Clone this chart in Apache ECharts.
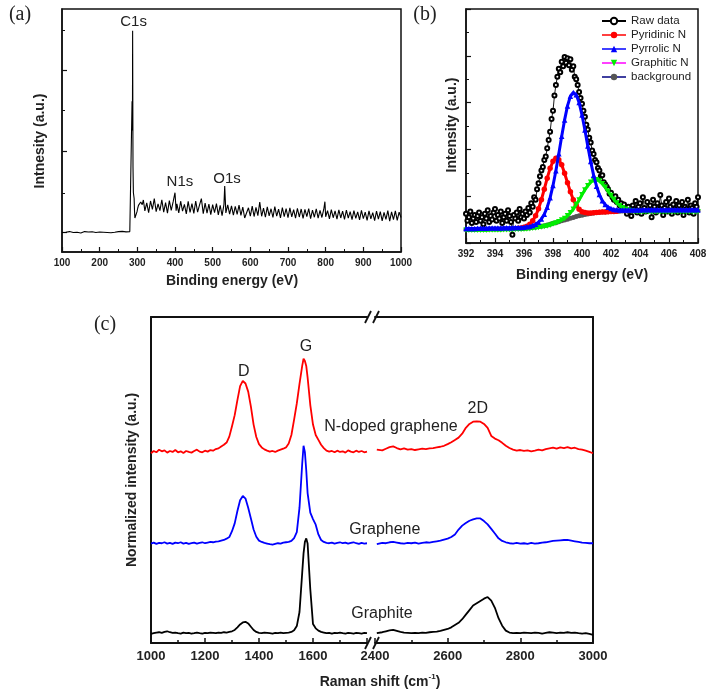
<!DOCTYPE html>
<html><head><meta charset="utf-8">
<script src="https://cdn.jsdelivr.net/npm/echarts@6/dist/echarts.min.js"></script>
<style>html,body{margin:0;padding:0;background:#fff}#c{width:711px;height:697px}</style>
</head><body><div id="c"></div>
<script>
const FONT = "'Liberation Sans', Arial, sans-serif";
const SERIF = "'Liberation Serif', 'Times New Roman', serif";

// ---------- (a) XPS survey: [binding energy, intensity] ----------
const surveyPoints = [
[100,8.0],[105,8.3],[110,8.1],[115,7.9],[120,8.4],[125,8.2],[130,8.0],[135,8.5],[140,8.1],[145,8.3],
[150,7.8],[155,8.2],[160,8.4],[165,8.0],[170,8.2],[175,7.9],[180,8.3],[185,8.1],[190,8.0],[195,8.4],
[200,8.2],[205,7.9],[210,8.1],[215,8.3],[220,8.0],[225,8.2],[230,7.9],[235,8.3],[240,8.1],[245,8.0],
[250,8.4],[255,8.2],[260,8.5],[265,8.1],[270,8.3],[275,8.6],[280,8.4],[283,8.6],[285,8.9],[286,62],
[287,50],[287.5,91],[288.5,35],[289.5,24.5],[290.5,25],[291.5,22],[292.5,17],[293.5,14],[295,13.4],[297,14.5],
[299,16.5],[301,18.0],[303,19.2],[306,19.8],[309,20.6],[311,21.0],[313,19.5],
[316,21.4],[320,16.9],[325,20.2],[330,16.2],[335,21.0],[340,17.5],[345,22.0],[350,16.6],[355,19.8],[360,17.0],
[365,21.5],[370,16.4],[375,20.3],[380,16.0],[385,21.2],[390,17.1],[395,20.6],[400,24.4],[403,17.0],[405,19.8],
[410,16.1],[415,20.9],[420,16.8],[425,19.6],[430,15.7],[435,20.8],[440,16.3],[445,19.9],[450,15.9],[455,21.0],
[460,16.4],[465,19.3],[470,22.0],[475,15.8],[480,20.1],[485,16.0],[490,19.7],[495,15.4],[500,19.5],[505,16.2],
[510,19.9],[515,15.3],[520,19.2],[525,15.0],[530,19.6],[532,27.2],[535,16.1],[540,19.4],[545,15.6],[550,19.0],
[555,15.2],[560,18.8],[565,15.5],[570,19.3],[575,15.1],[580,18.5],[585,14.0],[590,13.2],[595,18.2],[600,14.8],
[605,18.9],[610,14.6],[615,18.4],[620,15.0],[625,20.5],[630,14.7],[635,18.1],[640,14.3],[645,18.6],[650,14.9],
[655,17.8],[660,14.2],[665,18.7],[670,14.8],[675,17.6],[680,14.0],[685,18.3],[690,14.6],[695,17.9],[700,14.1],
[705,18.2],[710,14.5],[715,17.4],[720,13.9],[725,18.0],[730,14.4],[735,17.7],[740,13.8],[745,17.5],[750,14.6],
[755,17.9],[760,13.7],[765,17.2],[770,14.3],[775,17.8],[780,13.9],[785,17.1],[790,14.2],[795,17.6],[798,20.7],
[800,14.5],[805,17.0],[810,13.6],[815,17.4],[820,14.1],[825,16.9],[830,13.5],[835,17.3],[840,14.0],[845,16.8],
[850,13.4],[855,17.2],[860,13.9],[865,16.6],[870,13.3],[875,17.0],[880,13.8],[885,16.5],[890,13.2],[895,17.1],
[900,13.7],[905,16.4],[910,13.0],[915,16.9],[920,13.6],[925,16.2],[930,12.9],[935,16.8],[940,13.5],[945,16.6],
[950,12.8],[955,16.3],[960,13.4],[965,17.0],[970,12.7],[975,16.5],[980,13.3],[985,16.9],[990,13.0],[995,16.4],[1000,14.2]
];
const surveyLabels = [
  {t:'C1s', x:290, y:94.7}, {t:'N1s', x:413, y:28.8}, {t:'O1s', x:538, y:30.0}
];

// ---------- (b) N1s high resolution ----------
const rawPoints = [
[392.0,1.25],[392.1,0.95],[392.2,1.10],[392.3,1.35],[392.4,0.85],[392.5,1.05],[392.6,1.20],[392.7,0.90],[392.8,1.15],[392.9,1.30],
[393.0,0.95],[393.1,1.10],[393.2,0.80],[393.3,1.25],[393.4,1.05],[393.5,1.40],[393.6,0.90],[393.7,1.15],[393.8,1.00],[393.9,1.30],
[394.0,1.45],[394.1,0.95],[394.2,1.20],[394.3,1.05],[394.4,1.35],[394.5,0.85],[394.6,1.10],[394.7,1.25],[394.8,0.95],[394.9,1.40],
[395.0,1.15],[395.1,0.90],[395.2,0.35],[395.3,1.20],[395.4,1.05],[395.5,1.30],[395.6,0.95],[395.7,1.45],[395.8,1.10],[395.9,1.25],
[396.0,1.05],[396.1,1.35],[396.2,1.20],[396.3,1.50],[396.4,1.30],[396.5,1.70],[396.6,1.55],[396.7,1.95],[396.8,1.85],[396.9,2.30],
[397.0,2.55],[397.1,2.85],[397.2,3.10],[397.3,3.25],[397.4,3.55],[397.5,3.70],[397.6,4.05],[397.7,4.40],[397.8,4.75],[397.9,5.30],
[398.0,5.65],[398.1,6.30],[398.2,6.75],[398.3,7.10],[398.4,7.45],[398.5,7.30],[398.6,7.75],[398.7,7.55],[398.8,7.95],[398.9,7.70],
[399.0,7.90],[399.1,7.60],[399.2,7.85],[399.3,7.40],[399.4,7.55],[399.5,7.10],[399.6,7.00],[399.7,6.75],[399.8,6.45],[399.9,6.20],
[400.0,5.95],[400.1,5.65],[400.2,5.40],[400.3,5.05],[400.4,4.85],[400.5,4.50],[400.6,4.30],[400.7,3.95],[400.8,3.80],[400.9,3.55],
[401.0,3.45],[401.1,3.20],[401.2,3.10],[401.3,2.85],[401.4,2.90],[401.5,2.60],[401.6,2.50],[401.7,2.40],[401.8,2.30],[401.9,2.10],
[402.0,2.15],[402.1,1.95],[402.2,1.85],[402.3,2.00],[402.4,1.75],[402.5,1.85],[402.6,1.60],[402.7,1.70],[402.8,1.50],[402.9,1.65],
[403.0,1.40],[403.1,1.25],[403.2,1.55],[403.3,1.35],[403.4,1.15],[403.5,1.60],[403.6,1.45],[403.7,1.80],[403.8,1.30],[403.9,1.55],
[404.0,1.70],[404.1,1.25],[404.2,1.95],[404.3,1.50],[404.4,1.35],[404.5,1.75],[404.6,1.40],[404.7,1.60],[404.8,1.10],[404.9,1.85],
[405.0,1.55],[405.1,1.30],[405.2,1.70],[405.3,1.45],[405.4,2.05],[405.5,1.60],[405.6,1.20],[405.7,1.50],[405.8,1.75],[405.9,1.35],
[406.0,1.90],[406.1,1.55],[406.2,1.25],[406.3,1.65],[406.4,1.45],[406.5,1.80],[406.6,1.30],[406.7,1.60],[406.8,1.40],[406.9,1.75],
[407.0,1.20],[407.1,1.55],[407.2,1.45],[407.3,1.85],[407.4,1.30],[407.5,1.60],[407.6,1.50],[407.7,1.25],[407.8,1.70],[407.9,1.55],
[408.0,1.95]
];
const fitX = [
392.0,392.2,392.4,392.6,392.8,393.0,393.2,393.4,393.6,393.8,
394.0,394.2,394.4,394.6,394.8,395.0,395.2,395.4,395.6,395.8,
396.0,396.2,396.4,396.6,396.8,397.0,397.2,397.4,397.6,397.8,
398.0,398.2,398.4,398.6,398.8,399.0,399.2,399.4,399.6,399.8,
400.0,400.2,400.4,400.6,400.8,401.0,401.2,401.4,401.6,401.8,
402.0,402.2,402.4,402.6,402.8,403.0,403.2,403.4,403.6,403.8,
404.0,404.2,404.4,404.6,404.8,405.0,405.2,405.4,405.6,405.8,
406.0,406.2,406.4,406.6,406.8,407.0,407.2,407.4,407.6,407.8,
408.0];
const pyridinicN = [
null,null,null,null,null,null,null,null,null,null,
null,null,null,null,null,null,null,null,0.63,0.64,
0.67,0.72,0.80,0.95,1.16,1.46,1.85,2.30,2.77,3.19,
3.49,3.62,3.56,3.34,2.98,2.58,2.19,1.85,1.61,1.44,
1.34,1.30,1.28,1.28,1.29,1.30,1.31,1.32,1.33,1.34,
1.35,1.35,1.36,null,null,null,null,null,null,null,
null,null,null,null,null,null,null,null,null,null,
null,null,null,null,null,null,null,null,null,null,
null];
const pyrrolicN = [
0.62,0.62,0.62,0.62,0.63,0.63,0.63,0.63,0.64,0.64,
0.64,0.64,0.64,0.65,0.65,0.65,0.65,0.66,0.66,0.66,
0.67,0.69,0.71,0.75,0.80,0.89,1.03,1.23,1.53,1.93,
2.46,3.09,3.81,4.56,5.26,5.86,6.27,6.43,6.34,6.00,
5.47,4.83,4.14,3.48,2.90,2.43,2.07,1.81,1.64,1.53,
1.47,1.43,1.42,1.41,1.41,1.41,1.41,1.41,1.41,1.41,
1.41,1.42,1.42,1.42,1.42,1.42,1.42,1.42,1.42,1.42,
1.42,1.42,1.42,1.42,1.42,1.42,1.42,1.42,1.42,1.42,
1.42];
const graphiticN = [
0.54,0.54,0.54,0.54,0.55,0.55,0.55,0.55,0.56,0.56,
0.56,0.56,0.56,0.57,0.57,0.57,0.57,0.58,0.58,0.58,
0.59,0.60,0.61,0.63,0.64,0.66,0.68,0.70,0.73,0.76,
0.81,0.85,0.91,0.98,1.05,1.16,1.29,1.44,1.64,1.84,
2.06,2.27,2.45,2.60,2.68,2.70,2.65,2.53,2.38,2.21,
2.03,1.86,1.71,1.59,1.51,1.44,1.40,1.37,1.35,1.34,
1.33,1.34,1.34,1.34,1.34,1.34,1.34,1.34,1.34,1.34,
1.34,1.34,1.34,1.34,1.34,1.34,1.34,1.34,1.34,1.34,
1.34];
const backgroundN = [
0.58,0.58,0.58,0.58,0.59,0.59,0.59,0.59,0.60,0.60,
0.60,0.60,0.60,0.61,0.61,0.61,0.61,0.62,0.62,0.62,
0.63,0.64,0.65,0.67,0.68,0.70,0.72,0.74,0.77,0.80,
0.84,0.87,0.91,0.95,0.98,1.02,1.06,1.09,1.13,1.16,
1.19,1.22,1.24,1.26,1.28,1.30,1.31,1.32,1.33,1.34,
1.35,1.35,1.36,1.36,1.37,1.37,1.37,1.37,1.37,1.37,
1.37,1.38,1.38,1.38,1.38,1.38,1.38,1.38,1.38,1.38,
1.38,1.38,1.38,1.38,1.38,1.38,1.38,1.38,1.38,1.38,
1.38];
const legendNames = ['Raw data','Pyridinic N','Pyrrolic N','Graphitic N','background'];

// ---------- (c) Raman ----------
const ramanXLeft = [
1000,1010,1020,1030,1040,1050,1060,1070,1080,1090,
1100,1110,1120,1130,1140,1150,1160,1170,1180,1190,
1200,1210,1220,1230,1240,1250,1260,1270,1280,1290,
1300,1310,1320,1330,1340,1350,1360,1370,1380,1390,
1400,1410,1420,1430,1440,1450,1460,1470,1480,1490,
1500,1510,1520,1530,1540,1550,1560,1565,1570,1575,
1580,1590,1600,1610,1620,1630,1640,1650,1660,1670,
1680,1690,1700,1710,1720,1730,1740,1750,1760,1770,
1780,1790,1800];
const ramanXRight = [
2405,2410,2420,2430,2440,2450,2460,2470,2480,2490,
2500,2510,2520,2530,2540,2550,2560,2570,2580,2590,
2600,2610,2620,2630,2640,2650,2660,2670,2680,2690,
2700,2710,2720,2730,2740,2750,2760,2770,2780,2790,
2800,2810,2820,2830,2840,2850,2860,2870,2880,2890,
2900,2910,2920,2930,2940,2950,2960,2970,2980,2990,
3000];
const nDopedLeft = [
58.2,58.9,58.5,59.3,58.8,59.1,58.4,58.9,58.6,59.2,
58.5,58.8,58.3,58.9,58.6,58.4,58.9,59.3,58.7,58.5,
59.0,58.7,59.2,59.0,59.5,59.7,60.3,60.8,61.5,63.3,
66.5,69.9,74.5,78.8,80.4,79.6,77.1,72.5,67.0,63.2,
61.0,60.0,59.4,59.0,58.7,58.9,58.6,59.0,59.3,59.6,
60.0,61.2,63.8,68.5,73.5,79.5,85.0,87.2,86.5,85.0,
81.5,73.0,67.0,63.8,62.3,60.8,59.8,59.0,58.7,58.9,
58.5,59.0,58.6,58.8,58.4,59.1,58.7,58.5,59.0,58.6,
58.9,58.5,58.7];
const nDopedRight = [
59.3,59.5,59.1,59.6,60.1,60.3,59.8,59.4,59.7,59.3,
59.5,59.2,59.4,59.6,59.5,59.7,59.8,60.0,60.2,60.5,
61.0,61.6,62.3,63.0,64.2,66.0,67.2,67.9,68.0,67.9,
67.2,66.0,63.5,62.7,62.2,61.4,60.5,59.8,59.3,59.0,
59.2,58.9,59.1,58.8,59.0,59.3,59.1,59.5,59.7,59.9,
59.6,60.0,59.8,60.1,59.7,59.9,59.5,59.3,59.0,58.6,
58.2];
const grapheneLeft = [
30.5,30.8,30.4,30.7,30.6,30.9,30.5,30.7,30.4,30.8,
30.6,30.9,30.5,30.7,30.4,30.6,30.8,30.5,30.7,30.9,
30.6,30.8,31.0,30.9,31.1,31.2,31.4,31.6,32.0,32.5,
34.3,36.7,40.5,43.8,45.1,44.3,41.5,38.2,34.8,32.6,
31.4,31.0,30.7,30.5,30.3,30.2,30.4,30.6,30.5,30.8,
30.9,31.0,31.3,32.2,34.0,41.5,55.0,60.5,58.5,53.0,
46.0,40.0,38.0,36.3,33.3,31.6,31.0,30.7,30.6,30.8,
30.5,30.7,30.9,30.6,30.8,30.5,30.7,30.9,30.6,30.4,
30.7,30.5,30.6];
const grapheneRight = [
30.3,30.5,30.7,30.6,30.9,31.0,30.8,30.6,30.5,30.7,
30.6,30.8,30.5,30.7,30.9,30.8,31.0,31.2,31.4,31.7,
32.0,32.5,33.3,34.8,36.0,36.8,37.5,37.9,38.2,38.2,
37.4,36.4,35.0,33.6,32.1,31.3,30.9,30.6,30.5,30.7,
30.5,30.6,30.4,30.7,30.5,30.6,30.8,30.9,31.1,31.3,
31.4,31.5,31.6,31.6,31.4,31.2,31.0,30.8,30.7,30.6,
30.6];
const graphiteLeft = [
2.8,3.0,3.2,3.3,3.1,3.4,3.6,3.3,3.1,3.2,
3.0,2.9,3.2,3.0,3.1,2.9,3.0,3.2,3.0,2.9,
3.1,3.0,3.2,3.1,3.0,3.2,3.1,3.3,3.2,3.4,
3.6,4.0,4.8,5.7,6.3,6.5,6.0,5.0,4.0,3.4,
3.1,3.0,3.2,3.1,3.0,2.9,3.1,3.0,3.2,3.0,
3.1,3.2,3.4,3.9,5.2,9.5,21.5,27.5,31.0,32.1,
30.5,16.5,5.8,4.5,3.8,3.4,3.2,3.0,3.1,2.9,
3.1,3.0,3.2,3.0,2.9,3.1,3.0,2.9,3.1,3.0,
2.9,3.1,3.0];
const graphiteRight = [
3.0,3.1,3.3,3.6,3.9,4.0,3.7,3.4,3.2,3.1,
3.0,3.1,3.0,3.2,3.1,3.3,3.4,3.5,3.7,4.0,
4.3,4.8,5.5,6.2,7.3,8.7,10.1,11.5,12.2,12.9,
13.6,14.1,13.0,10.8,7.6,5.3,3.8,3.2,3.0,3.1,
3.0,3.2,3.1,3.0,3.2,3.1,2.9,3.1,3.3,3.2,
3.0,3.2,3.1,3.3,3.1,3.2,3.0,2.9,3.0,2.8,
2.5];
const ramanLabels = [
  {t:'D', ax:2, ay:3, x:1344, y:83.4},
  {t:'G', ax:2, ay:3, x:1574, y:90.8},
  {t:'2D', ax:4, ay:4, x:2683, y:71.8},
  {t:'N-doped graphene', ax:4, ay:4, x:2444, y:66.3},
  {t:'Graphene', ax:4, ay:4, x:2427, y:34.7},
  {t:'Graphite', ax:4, ay:4, x:2419, y:8.9}
];
const ramanXTicksLeft = {min:1000, max:1800, step:200};
const ramanXTicksRight = {min:2400, max:3000, step:200};

// ---------- build ----------
const zip = (xs, ys) => xs.map((x, i) => [x, ys[i]]);
const chart = echarts.init(document.getElementById('c'), null, {renderer:'canvas'});

const tickLabel = (size) => ({margin:6, fontSize:size, fontWeight:'bold', color:'#222', fontFamily:FONT, formatter:(v)=>String(v)});
const axLine = (w) => ({show:true, onZero:false, lineStyle:{color:'#111', width:w}});

const option = {
  animation:false,
  backgroundColor:'#fff',
  grid:[
    {left:62, top:9, width:339, height:243, show:true, borderColor:'#111', borderWidth:1.5},
    {left:466, top:9, width:232, height:234, show:true, borderColor:'#111', borderWidth:1.5},
    {left:151, top:317, width:216, height:326},
    {left:375, top:317, width:218, height:326}
  ],
  xAxis:[
    {gridIndex:0, type:'value', min:100, max:1000, interval:100, axisLine:axLine(1.5),
     axisTick:{inside:true, length:5, lineStyle:{color:'#111', width:1.2}},
     minorTick:{show:true, splitNumber:2, length:3, lineStyle:{color:'#111', width:1}},
     axisLabel:tickLabel(10), splitLine:{show:false}},
    {gridIndex:1, type:'value', min:392, max:408, interval:2, axisLine:axLine(1.5),
     axisTick:{inside:true, length:5, lineStyle:{color:'#111', width:1.2}},
     minorTick:{show:true, splitNumber:2, length:3, lineStyle:{color:'#111', width:1}},
     axisLabel:tickLabel(10), splitLine:{show:false}},
    {gridIndex:2, type:'value', min:ramanXTicksLeft.min, max:ramanXTicksLeft.max, interval:ramanXTicksLeft.step, axisLine:axLine(2),
     axisTick:{inside:true, length:5, lineStyle:{color:'#111', width:1.5}},
     minorTick:{show:true, splitNumber:2, length:3, lineStyle:{color:'#111', width:1.5}},
     axisLabel:Object.assign(tickLabel(13), {margin:7, formatter:(v)=> v===1800 ? '' : String(v)}), splitLine:{show:false}},
    {gridIndex:2, type:'value', position:'top', min:1000, max:1800, axisLine:axLine(2),
     axisTick:{show:false}, axisLabel:{show:false}, splitLine:{show:false}},
    {gridIndex:3, type:'value', min:ramanXTicksRight.min, max:ramanXTicksRight.max, interval:ramanXTicksRight.step, axisLine:axLine(2),
     axisTick:{inside:true, length:5, lineStyle:{color:'#111', width:1.5}},
     minorTick:{show:true, splitNumber:2, length:3, lineStyle:{color:'#111', width:1.5}},
     axisLabel:Object.assign(tickLabel(13), {margin:7}), splitLine:{show:false}},
    {gridIndex:3, type:'value', position:'top', min:2400, max:3000, axisLine:axLine(2),
     axisTick:{show:false}, axisLabel:{show:false}, splitLine:{show:false}}
  ],
  yAxis:[
    {gridIndex:0, type:'value', min:0, max:100, position:'left', axisLine:axLine(1.5),
     axisTick:{inside:true, length:5, customValues:[8.2,41.6,74.9], lineStyle:{color:'#111', width:1.2}},
     axisLabel:{show:false}, splitLine:{show:false}},
    {gridIndex:0, type:'value', min:0, max:100, position:'left', offset:0, axisLine:{show:false},
     axisTick:{inside:true, length:3, customValues:[24.3,58.2,91.4], lineStyle:{color:'#111', width:1}},
     axisLabel:{show:false}, splitLine:{show:false}},
    {gridIndex:1, type:'value', min:0, max:10, interval:2, axisLine:axLine(1.5),
     axisTick:{inside:true, length:5, lineStyle:{color:'#111', width:1.2}},
     minorTick:{show:true, splitNumber:2, length:3, lineStyle:{color:'#111', width:1}},
     axisLabel:{show:false}, splitLine:{show:false}},
    {gridIndex:2, type:'value', min:0, max:100, axisLine:axLine(2), axisTick:{show:false},
     axisLabel:{show:false}, splitLine:{show:false}},
    {gridIndex:3, type:'value', min:0, max:100, position:'right', axisLine:axLine(2), axisTick:{show:false},
     axisLabel:{show:false}, splitLine:{show:false}}
  ],
  legend:{
    data:[
      {name:legendNames[0]},
      {name:legendNames[1], lineStyle:{width:1.5}},
      {name:legendNames[2], lineStyle:{width:1.5}},
      {name:legendNames[3], lineStyle:{color:'#ff00ff', width:1.5}},
      {name:legendNames[4], lineStyle:{color:'#000080', width:1.5}}
    ],
    orient:'vertical', left:601, top:15, padding:0,
    itemWidth:24, itemHeight:8, itemGap:2, selectedMode:false,
    textStyle:{fontSize:11.5, lineHeight:12, color:'#222', fontFamily:FONT}
  },
  series:[
    {name:'survey', type:'line', xAxisIndex:0, yAxisIndex:0, data:surveyPoints, showSymbol:false,
     lineStyle:{color:'#000', width:1.1}, itemStyle:{color:'#000'}, silent:true},

    {name:'Raw data', type:'line', xAxisIndex:1, yAxisIndex:2, data:rawPoints, symbol:'emptyCircle', symbolSize:4, showAllSymbol:true,
     lineStyle:{color:'#000', width:0.9}, itemStyle:{color:'#000', borderWidth:0.8}, silent:true, z:2},
    {name:'background', type:'line', xAxisIndex:1, yAxisIndex:2, data:zip(fitX, backgroundN), symbol:'circle', symbolSize:5, showAllSymbol:true,
     lineStyle:{color:'#555', width:3}, itemStyle:{color:'#555'}, silent:true, z:3},
    {name:'Pyridinic N', type:'line', xAxisIndex:1, yAxisIndex:2, data:zip(fitX, pyridinicN), symbol:'circle', symbolSize:5.5, showAllSymbol:true,
     lineStyle:{color:'#ff0000', width:3}, itemStyle:{color:'#ff0000'}, silent:true, z:4},
    {name:'Graphitic N', type:'line', xAxisIndex:1, yAxisIndex:2, data:zip(fitX, graphiticN), symbol:'triangle', symbolRotate:180, symbolSize:5.5, showAllSymbol:true,
     lineStyle:{color:'#00ee00', width:3}, itemStyle:{color:'#00ee00'}, silent:true, z:5},
    {name:'Pyrrolic N', type:'line', xAxisIndex:1, yAxisIndex:2, data:zip(fitX, pyrrolicN), symbol:'triangle', symbolSize:5.5, showAllSymbol:true,
     lineStyle:{color:'#0000ff', width:3}, itemStyle:{color:'#0000ff'}, silent:true, z:6},

    {name:'N-doped L', type:'line', xAxisIndex:2, yAxisIndex:3, data:zip(ramanXLeft, nDopedLeft), showSymbol:false, lineStyle:{color:'#ff0000', width:1.8}, silent:true},
    {name:'Graphene L', type:'line', xAxisIndex:2, yAxisIndex:3, data:zip(ramanXLeft, grapheneLeft), showSymbol:false, lineStyle:{color:'#0000ff', width:1.8}, silent:true},
    {name:'Graphite L', type:'line', xAxisIndex:2, yAxisIndex:3, data:zip(ramanXLeft, graphiteLeft), showSymbol:false, lineStyle:{color:'#000', width:1.8}, silent:true},
    {name:'N-doped R', type:'line', xAxisIndex:4, yAxisIndex:4, data:zip(ramanXRight, nDopedRight), showSymbol:false, lineStyle:{color:'#ff0000', width:1.8}, silent:true},
    {name:'Graphene R', type:'line', xAxisIndex:4, yAxisIndex:4, data:zip(ramanXRight, grapheneRight), showSymbol:false, lineStyle:{color:'#0000ff', width:1.8}, silent:true},
    {name:'Graphite R', type:'line', xAxisIndex:4, yAxisIndex:4, data:zip(ramanXRight, graphiteRight), showSymbol:false, lineStyle:{color:'#000', width:1.8}, silent:true}
  ]
};
chart.setOption(option);

// ---------- annotations & decorations ----------
const g = [];
const txt = (t, x, y, font) => ({type:'text', x:x, y:y, silent:true,
  style:{text:t, font:font, fill:'#222', align:'center', verticalAlign:'middle'}});

g.push(txt('(a)', 20, 15, '20px ' + SERIF));
g.push(txt('(b)', 425, 15, '20px ' + SERIF));
g.push(txt('(c)', 105, 325, '20px ' + SERIF));

g.push(txt('Binding energy (eV)', 232, 281, 'bold 14px ' + FONT));
g.push(txt('Binding energy (eV)', 582, 275, 'bold 14px ' + FONT));
g.push(Object.assign(txt('Intnesity (a.u.)', 40, 141, 'bold 14px ' + FONT), {rotation:Math.PI/2}));
g.push(Object.assign(txt('Intensity (a.u.)', 452, 125, 'bold 14px ' + FONT), {rotation:Math.PI/2}));
g.push(Object.assign(txt('Normalized intensity (a.u.)', 132, 480, 'bold 14px ' + FONT), {rotation:Math.PI/2}));
g.push({type:'text', x:380, y:682, silent:true, style:{
  text:'{a|Raman shift (cm}{s|-1}{a|)}', align:'center', verticalAlign:'middle', fill:'#222',
  rich:{a:{font:'bold 14px ' + FONT, lineHeight:18, fill:'#222'},
        s:{font:'bold 8px ' + FONT, lineHeight:9, verticalAlign:'top', fill:'#222'}}}});

surveyLabels.forEach(l => {
  const p = chart.convertToPixel({xAxisIndex:0, yAxisIndex:0}, [l.x, l.y]);
  g.push(txt(l.t, p[0], p[1], '15px ' + FONT));
});
ramanLabels.forEach(l => {
  const p = chart.convertToPixel({xAxisIndex:l.ax, yAxisIndex:l.ay}, [l.x, l.y]);
  g.push(txt(l.t, p[0], p[1], '16px ' + FONT));
});

// axis break marks
const L = chart.convertToPixel({xAxisIndex:2}, 1800);
const R = chart.convertToPixel({xAxisIndex:4}, 2400);
const yB = chart.convertToPixel({yAxisIndex:3}, 0);
const yT = chart.convertToPixel({yAxisIndex:3}, 100);
[yB, yT].forEach(yy => {
  g.push({type:'line', silent:true, shape:{x1:L-2, y1:yy+6, x2:L+4, y2:yy-6}, style:{stroke:'#111', lineWidth:1.8}});
  g.push({type:'line', silent:true, shape:{x1:R-2, y1:yy+6, x2:R+4, y2:yy-6}, style:{stroke:'#111', lineWidth:1.8}});
});

chart.setOption({graphic:g});
</script>
</body></html>
